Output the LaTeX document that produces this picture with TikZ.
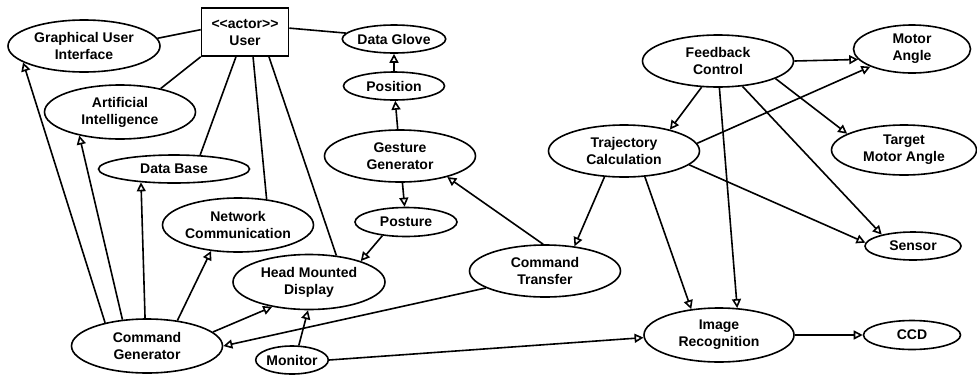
\documentclass[tikz,border=0pt]{standalone}
\usepackage{fontspec}
\setmainfont{Liberation Sans}
\usetikzlibrary{shapes.geometric,arrows.meta}

\tikzset{
	usecase/.style={ellipse, draw, inner sep=0, align=center},
	actorbox/.style={rectangle, draw, inner sep=0, align=center},
	uses/.style={-{Triangle[open,length=9bp,width=9bp]}},
}

\begin{document}
\begin{tikzpicture}[line width=1.6bp, font=\bfseries\fontsize{14bp}{17bp}\selectfont]
	\begin{scope}[x=1bp, y=-1bp]
		\useasboundingbox (0,0) rectangle (977,374);
		
		% Actor
		\node (user) at (245,32)
		      [ actorbox
		      , minimum width=87bp
		      , minimum height=48bp]
		      {<{}<actor>{}>\\User};
		
		% Use cases
		\foreach \name/\x/\y/\w/\h/\txt in {
			gui/84/46/152/52/{Graphical User\\Interface},
			ai/120/112/151/54/{Artificial\\Intelligence},
			db/174/169/151/28/{Data Base},
			nc/238/225/151/54/{Network\\Communication},
			hmd/309/282/152/55/{Head Mounted\\Display},
			cg/147/346/151/54/{Command\\Generator},
			mon/292/360/71/28/{Monitor},
			dg/394/39/101/28/{Data Glove},
			pos/394/86/101/28/{Position},
			gg/400/156/151/52/{Gesture\\Generator},
			pst/406/222/102/29/{Posture},
			ct/545/271/151/52/{Command\\Transfer},
			tc/624/151/151/52/{Trajectory\\Calculation},
			fc/718/61/151/52/{Feedback\\Control},
			ma/912/49/117/48/{Motor\\Angle},
			tma/904/150/145/50/{Target\\Motor Angle},
			sen/913/246/96/28/{Sensor},
			ir/719/335/150/54/{Image\\Recognition},
			ccd/912/335/97/29/{CCD}}{
			\node (\name) at (\x,\y)
			      [ usecase
			      , minimum width=\w*1bp
			      , minimum height=\h*1bp]
			      {\txt};
		}
		
		% Associations of the actor
		\foreach \from/\to in {
			user.177/gui.6, user.south west/ai.30, user.250/db.28,
			user.288/nc.42, user.314/hmd.44, user.5/dg.173}{
			\draw (\from) -- (\to);
		}
		
		% Dependencies
		\foreach \from/\to in {
			pos/dg, gg/pos, gg/pst, pst.210/hmd.22, ct.94/gg.336,
			tc.233/ct.40, ct.196/cg.east,
			cg.151/gui.195, cg.133/ai.210, cg.94/db.202, cg.40/nc.224,
			cg.12/hmd.214, mon.65/hmd.268, mon.east/ir.182,
			fc.east/ma.191, tc.6/ma.203, fc.238/tc.25, fc.273/ir.56,
			fc.314/sen.160, fc.343/tma.164, tc.348/sen.176, tc.309/ir.137,
			ir.east/ccd.west}{
			\draw [uses] (\from) -- (\to);
		}
	\end{scope}
	
\end{tikzpicture}
\end{document}
